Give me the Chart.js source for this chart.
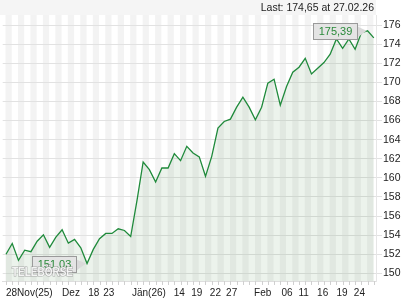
<!DOCTYPE html>
<html><head><meta charset="utf-8">
<script src="https://cdn.jsdelivr.net/npm/chart.js@4/dist/chart.umd.min.js"></script>
<style>html,body{margin:0;padding:0;background:#fff;overflow:hidden}</style>
</head><body>
<canvas id="c" width="420" height="300"></canvas>
<script>
// ---- data ----
const prices = [
  152.00, 153.13, 151.36, 152.43, 152.27, 153.37, 154.04, 152.72, 153.79, 154.56,
  153.16, 153.55, 152.68, 151.03, 152.51, 153.62, 154.18, 154.18, 154.67, 154.49,
  153.86, 157.60, 161.66, 160.86, 159.57, 161.03, 161.03, 162.53, 161.80, 163.30,
  162.60, 162.20, 160.16, 162.25, 165.21, 165.90, 166.15, 167.40, 168.45, 167.40,
  166.08, 167.40, 169.91, 170.33, 167.61, 169.56, 171.06, 171.58, 172.52, 170.88,
  171.48, 172.07, 172.94, 174.54, 173.57, 174.54, 173.46, 175.20, 175.39, 174.65
];
const xTickLabels = ["28Nov(25)","Dez","18","23","Jän(26)","14","19","22","27","Feb","06","11","16","19","24"];
const xTickIndex  = [0, 9.0, 13.2, 15.6, 20.2, 26.9, 29.7, 32.7, 35.3, 39.8, 44.2, 46.9, 49.9, 53.0, 55.8];
const yTickValues = [150,152,154,156,158,160,162,164,166,168,170,172,174,176];
const maxLabel = "175,39";
const minLabel = "151,03";
const lastText = "Last: 174,65 at 27.02.26";
const watermark = "TELEBÖRSE";

const FONT = "'Liberation Sans', Arial, sans-serif";

const backdrop = {
  id: 'backdrop',
  beforeDraw(chart) {
    const {ctx, chartArea: a, scales: {x}} = chart;
    ctx.save();
    ctx.fillStyle = '#f5f5f5';
    ctx.fillRect(0, 0, a.right, a.top);
    for (let i = 0; i < prices.length - 1; i += 2) {
      const x0 = x.getPixelForValue(i) - 0.5, x1 = x.getPixelForValue(i + 1) - 0.5;
      ctx.fillStyle = '#f3f3f3';
      ctx.fillRect(x0, a.top, x1 - x0, a.bottom - a.top);
    }
    ctx.fillStyle = '#222';
    ctx.font = '10.5px ' + FONT;
    ctx.textAlign = 'right';
    ctx.textBaseline = 'middle';
    ctx.fillText(lastText, a.right - 2, 8);
    ctx.restore();
  },
  afterDraw(chart) {
    const {ctx, chartArea: a, scales: {x, y}} = chart;
    ctx.save();
    // x tick marks at every data point
    ctx.strokeStyle = '#d0d0d0';
    ctx.lineWidth = 1;
    for (let i = 0; i < prices.length; i++) {
      const px = Math.round(x.getPixelForValue(i)) + 0.5;
      ctx.beginPath(); ctx.moveTo(px, a.bottom); ctx.lineTo(px, a.bottom + 4); ctx.stroke();
    }
    // callouts
    const iMax = prices.indexOf(Math.max(...prices));
    const iMin = prices.indexOf(Math.min(...prices));
    const callout = (i, text) => {
      const px = x.getPixelForValue(i), py = y.getPixelForValue(prices[i]);
      const w = 44, h = 16;
      const bx = Math.round(px - 11 - w) + 0.5, by = Math.round(py - h / 2) + 0.5;
      ctx.strokeStyle = '#9a9a9a';
      ctx.beginPath();
      ctx.moveTo(bx + w, by + 3);
      ctx.lineTo(px - 1, py);
      ctx.lineTo(bx + w, by + h - 2);
      ctx.closePath();
      ctx.fillStyle = '#dadada';
      ctx.fill();
      ctx.fillStyle = '#e4e4e4';
      ctx.fillRect(bx, by, w, h);
      ctx.strokeRect(bx, by, w, h);
      ctx.fillStyle = '#2a8a3a';
      ctx.font = '11px ' + FONT;
      ctx.textAlign = 'center';
      ctx.textBaseline = 'middle';
      ctx.fillText(text, bx + w / 2, by + h / 2 + 0.5);
    };
    callout(iMax, maxLabel);
    callout(iMin, minLabel);
    // watermark
    ctx.font = 'bold 12px ' + FONT;
    const tw = ctx.measureText(watermark).width;
    ctx.translate(12, 276);
    ctx.scale(61 / tw, 1);
    ctx.textAlign = 'left';
    ctx.textBaseline = 'alphabetic';
    ctx.lineWidth = 1.2;
    ctx.strokeStyle = 'rgba(150,150,150,0.8)';
    ctx.strokeText(watermark, 0, 0);
    ctx.fillStyle = 'rgba(255,255,255,0.85)';
    ctx.fillText(watermark, 0, 0);
    ctx.restore();
  }
};

new Chart(document.getElementById('c'), {
  type: 'line',
  data: {
    datasets: [{
      data: prices.map((v, i) => ({x: i, y: v})),
      borderColor: '#1f8a3b',
      borderWidth: 1.3,
      backgroundColor: 'rgba(40,120,40,0.09)',
      fill: 'start',
      pointRadius: 0,
      tension: 0
    }]
  },
  options: {
    responsive: false,
    devicePixelRatio: 1,
    animation: false,
    layout: {padding: {top: 15, left: 0, right: 0, bottom: 0}},
    plugins: {legend: {display: false}, tooltip: {enabled: false}},
    scales: {
      x: {
        type: 'linear',
        min: -0.53, max: 59.35,
        afterBuildTicks(s) { s.ticks = xTickIndex.map(v => ({value: v})); },
        afterFit(s) { s.height = 19; },
        grid: {display: true, drawOnChartArea: false, drawTicks: false},
        border: {display: true, color: '#dedede'},
        ticks: {
          autoSkip: false, maxRotation: 0, align: 'start', padding: 6,
          color: '#222', font: {family: FONT, size: 10},
          callback: (v, idx) => xTickLabels[idx]
        }
      },
      y: {
        position: 'right',
        min: 149.2, max: 177.05,
        afterBuildTicks(s) { s.ticks = yTickValues.map(v => ({value: v})); },
        afterFit(s) { s.width = 44; },
        grid: {color: '#e2e2e2', tickLength: 6, drawTicks: true},
        border: {display: true, color: '#e6e6e6'},
        ticks: {padding: 1, color: '#222', font: {family: FONT, size: 10.5}, callback: v => String(v)}
      }
    }
  },
  plugins: [backdrop]
});
</script>
</body></html>
